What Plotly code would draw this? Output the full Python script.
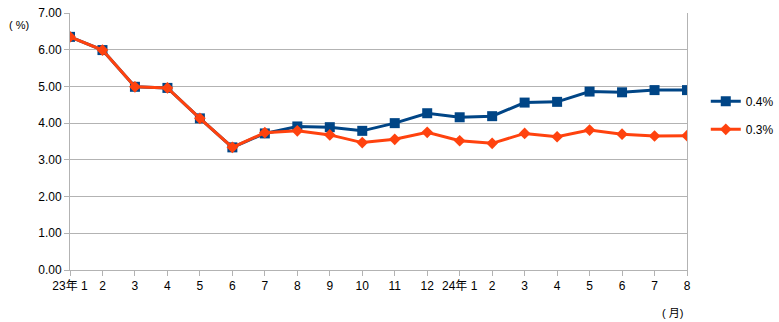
import plotly.graph_objects as go

# 月次の推移(23年1月〜24年8月)
months = ["23年 1", "2", "3", "4", "5", "6", "7", "8", "9", "10", "11", "12",
          "24年 1", "2", "3", "4", "5", "6", "7", "8"]
rate_04 = [6.35, 5.99, 4.99, 4.96, 4.13, 3.34, 3.72, 3.91, 3.89, 3.79, 4.00, 4.27,
           4.16, 4.19, 4.56, 4.58, 4.86, 4.84, 4.90, 4.90]
rate_03 = [6.35, 5.99, 4.99, 4.96, 4.13, 3.34, 3.74, 3.79, 3.68, 3.47, 3.56, 3.75,
           3.52, 3.45, 3.72, 3.63, 3.81, 3.70, 3.65, 3.66]
y_ticks = [0, 1, 2, 3, 4, 5, 6, 7]

xs = list(range(len(months)))
font_family = "Liberation Sans, Arial, Noto Sans CJK JP, sans-serif"

fig = go.Figure()
fig.add_trace(go.Scatter(
    x=xs, y=rate_04, name="0.4%", mode="lines+markers", legendgroup="a",
    line=dict(color="#004586", width=3),
    marker=dict(symbol="square", size=10, color="#004586"),
))
fig.add_trace(go.Scatter(
    x=xs, y=rate_03, name="0.3%", mode="lines+markers", legendgroup="b",
    line=dict(color="#ff420e", width=3),
    marker=dict(symbol="diamond", size=9, color="#ff420e"),
))

fig.update_layout(
    width=779, height=322,
    margin=dict(l=70, r=92, t=13, b=52, autoexpand=False),
    paper_bgcolor="white", plot_bgcolor="white",
    font=dict(family=font_family, size=12, color="#000000"),
    legend=dict(xref="container", yref="container",
                x=0.906, y=0.642, xanchor="left", yanchor="middle",
                bgcolor="rgba(0,0,0,0)", font=dict(size=12),
                itemwidth=30, tracegroupgap=9),
    xaxis=dict(
        range=[0, len(months) - 1],
        tickmode="array", tickvals=xs, ticktext=months,
        showgrid=False, zeroline=False,
        showline=True, linecolor="#b3b3b3", linewidth=1,
        ticks="outside", ticklen=5, tickcolor="#b3b3b3",
        tickangle=0, automargin=False,
    ),
    yaxis=dict(
        range=[0, 7],
        tickmode="array", tickvals=y_ticks,
        tickformat=".2f",
        showgrid=True, gridcolor="#b3b3b3", gridwidth=1,
        zeroline=False,
        showline=True, mirror=True, linecolor="#b3b3b3", linewidth=1,
        ticks="outside", ticklen=5, tickcolor="#b3b3b3",
        automargin=False,
    ),
    annotations=[
        dict(text="( %)", xref="paper", yref="paper", x=-0.083, y=0.953,
             xanchor="center", yanchor="middle", showarrow=False,
             font=dict(size=11)),
        dict(text="( 月)", xref="paper", yref="paper", x=0.977, y=-0.167,
             xanchor="center", yanchor="middle", showarrow=False,
             font=dict(size=11)),
    ],
)

fig.write_html("out.html")
